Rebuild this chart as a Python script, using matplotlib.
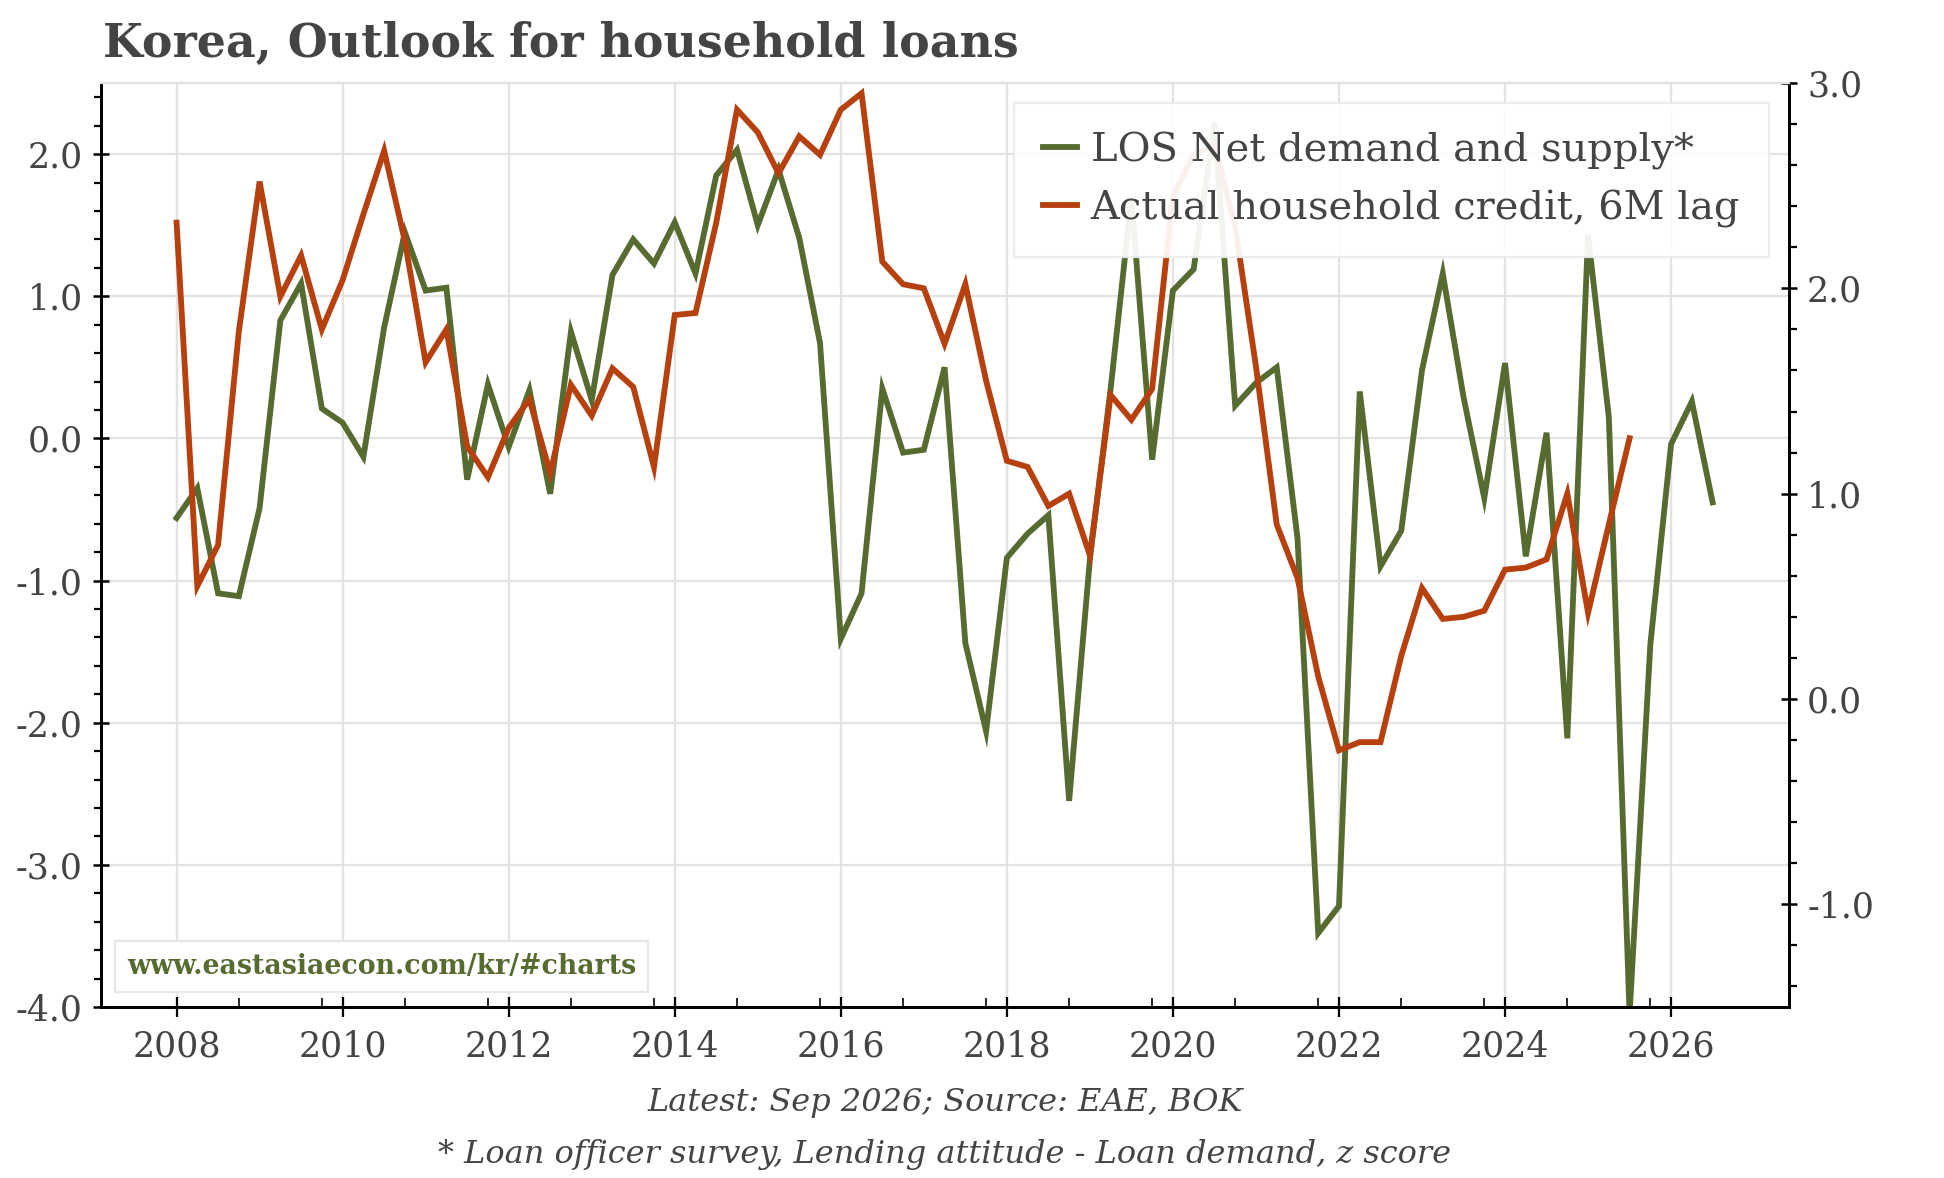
import numpy as np
import matplotlib
matplotlib.use('Agg')
import matplotlib.pyplot as plt
from matplotlib.ticker import MultipleLocator, FixedLocator, FormatStrFormatter

# Quarterly readings from 2008 Q1 onward
# LOS net demand and supply (z score, left axis)
los_net = [-0.56, -0.35, -1.09, -1.11,
           -0.49, 0.83, 1.09, 0.21,
           0.11, -0.13, 0.78, 1.45,
           1.04, 1.06, -0.29, 0.38,
           -0.06, 0.34, -0.39, 0.75,
           0.27, 1.15, 1.40, 1.23,
           1.52, 1.16, 1.85, 2.03,
           1.50, 1.89, 1.41, 0.67,
           -1.41, -1.09, 0.35, -0.10,
           -0.08, 0.50, -1.44, -2.06,
           -0.84, -0.67, -0.54, -2.55,
           -0.85, 0.35, 1.69, -0.15,
           1.04, 1.19, 2.22, 0.23,
           0.39, 0.50, -0.70, -3.48,
           -3.29, 0.33, -0.90, -0.65,
           0.48, 1.16, 0.29, -0.42,
           0.53, -0.83, 0.04, -2.11,
           1.43, 0.15, -4.05, -1.45,
           -0.04, 0.26, -0.45]

# Actual household credit, 6M lag (right axis)
hh_credit = [2.32, 0.55, 0.75, 1.79,
             2.52, 1.96, 2.16, 1.80,
             2.04, 2.36, 2.67, 2.23,
             1.64, 1.80, 1.23, 1.08,
             1.32, 1.46, 1.10, 1.53,
             1.38, 1.61, 1.52, 1.13,
             1.87, 1.88, 2.32, 2.87,
             2.76, 2.56, 2.74, 2.65,
             2.87, 2.95, 2.13, 2.02,
             2.00, 1.73, 2.02, 1.55,
             1.16, 1.13, 0.94, 1.00,
             0.70, 1.48, 1.36, 1.51,
             2.45, 2.65, 2.70, 2.30,
             1.62, 0.85, 0.59, 0.11,
             -0.25, -0.21, -0.21, 0.21,
             0.54, 0.39, 0.40, 0.43,
             0.63, 0.64, 0.68, 1.00,
             0.42, 0.85, 1.27]

year_ticks = list(range(2008, 2027, 2))
minor_year_ticks = [y + 0.75 for y in range(2008, 2026)]

green = '#566b30'
red = '#b6410f'
text_col = '#444444'
grid_col = '#e3e3e3'

plt.rcParams['font.family'] = 'DejaVu Serif'

x_los = 2008 + 0.25 * np.arange(len(los_net))
x_hh = 2008 + 0.25 * np.arange(len(hh_credit))

fig = plt.figure(figsize=(19.44, 11.78), dpi=100)
ax = fig.add_axes([101 / 1944, 1 - 1007 / 1178, 1688 / 1944, 924 / 1178])
ax2 = ax.twinx()

l1, = ax.plot(x_los, los_net, color=green, lw=4.2, solid_joinstyle='miter')
l2, = ax2.plot(x_hh, hh_credit, color=red, lw=4.2, solid_joinstyle='miter')

ax.set_xlim(2007.09, 2027.42)
ax.set_ylim(-4.0, 2.5)
ax2.set_ylim(-1.5, 3.0)

# ticks
ax.xaxis.set_major_locator(FixedLocator(year_ticks))
ax.xaxis.set_minor_locator(FixedLocator(minor_year_ticks))
ax.yaxis.set_major_locator(MultipleLocator(1.0))
ax.yaxis.set_minor_locator(MultipleLocator(0.2))
ax2.yaxis.set_major_locator(MultipleLocator(1.0))
ax2.yaxis.set_minor_locator(MultipleLocator(0.2))
ax.yaxis.set_major_formatter(FormatStrFormatter('%.1f'))
ax2.yaxis.set_major_formatter(FormatStrFormatter('%.1f'))

ax.tick_params(axis='x', which='major', direction='inout', length=15, width=1.6,
               labelsize=25, labelcolor=text_col, pad=9)
ax.tick_params(axis='x', which='minor', direction='in', length=6.5, width=1.2)
ax.tick_params(axis='y', which='major', direction='inout', length=12, width=1.8,
               labelsize=25, labelcolor=text_col, pad=7)
ax.tick_params(axis='y', which='minor', direction='out', length=5, width=1.6)
ax2.tick_params(axis='y', which='major', direction='inout', length=12, width=1.8,
                labelsize=25, labelcolor=text_col, pad=7)
ax2.tick_params(axis='y', which='minor', direction='out', length=5.5, width=1.6)

ax.grid(True, which='major', color=grid_col, lw=1.6)
ax.set_axisbelow(True)

for a in (ax, ax2):
    a.spines['top'].set_color(grid_col)
    a.spines['top'].set_linewidth(1.6)
    for s in ('left', 'right', 'bottom'):
        a.spines[s].set_linewidth(2.0)
        a.spines[s].set_color('black')

leg = ax2.legend([l1, l2], ['LOS Net demand and supply*', 'Actual household credit, 6M lag'],
                 loc='upper right', fontsize=28.8, handlelength=0.85, handletextpad=0.35,
                 labelspacing=0.5, borderaxespad=0.5, borderpad=0.72,
                 frameon=True, fancybox=False, framealpha=0.93, edgecolor='#ebebeb')
for t in leg.get_texts():
    t.set_color(text_col)
leg.get_frame().set_linewidth(1.6)

ax2.text(0.0155, 0.029, 'www.eastasiaecon.com/kr/#charts', transform=ax2.transAxes,
         fontsize=19.3, fontweight='bold', color=green, ha='left', va='bottom',
         bbox=dict(boxstyle='square,pad=0.45', fc='white', ec='#e6e6e6', lw=1.6))

fig.text(103 / 1944, 1 - 44 / 1178, 'Korea, Outlook for household loans',
         fontsize=33, fontweight='bold', color=text_col, ha='left', va='center')

cx = (101 + 1789) / 2 / 1944
fig.text(cx, 1 - 1102 / 1178, 'Latest: Sep 2026; Source: EAE, BOK',
         fontsize=23, style='italic', color=text_col, ha='center', va='center')
fig.text(cx, 1 - 1155 / 1178, '* Loan officer survey, Lending attitude - Loan demand, z score',
         fontsize=23, style='italic', color=text_col, ha='center', va='center')

fig.savefig('out.png', dpi=100, facecolor='white')
